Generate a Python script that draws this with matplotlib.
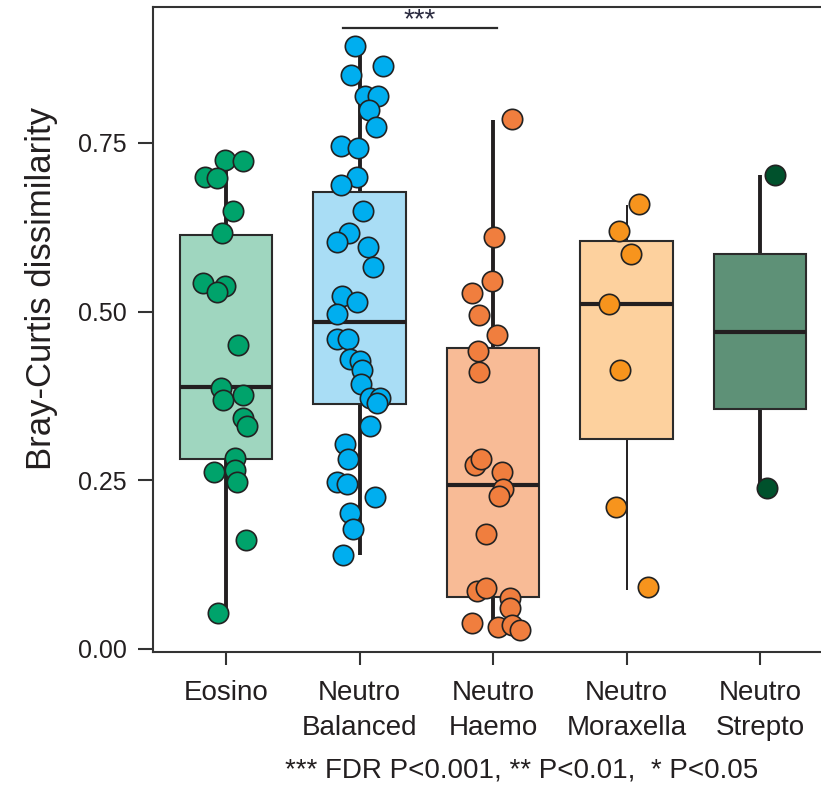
import numpy as np
import matplotlib
matplotlib.use("Agg")
from matplotlib import pyplot as plt

plt.rcParams['font.family'] = ['Liberation Sans', 'DejaVu Sans']

# groups and box statistics
groups = ['Eosino', 'Neutro\nBalanced', 'Neutro\nHaemo', 'Neutro\nMoraxella', 'Neutro\nStrepto']
q1 = [0.282, 0.363, 0.077, 0.311, 0.355]
med = [0.388, 0.485, 0.243, 0.511, 0.470]
q3 = [0.614, 0.677, 0.446, 0.605, 0.585]
whis_lo = [0.054, 0.139, 0.034, 0.088, 0.238]
whis_hi = [0.715, 0.893, 0.784, 0.658, 0.703]

# individual points (value, horizontal jitter)
eosino = [0.725, 0.723, 0.700, 0.698, 0.649, 0.617, 0.543, 0.538, 0.529, 0.450, 0.387,
          0.369, 0.377, 0.343, 0.330, 0.283, 0.262, 0.265, 0.248, 0.162, 0.054]
eosino_jit = [-0.007, 0.125, -0.157, -0.070, 0.055, -0.028, -0.170, -0.007, -0.070, 0.092, -0.037,
              -0.025, 0.125, 0.125, 0.155, 0.067, -0.090, 0.067, 0.085, 0.148, -0.058]

balanced = [0.893, 0.864, 0.851, 0.820, 0.819, 0.799, 0.774, 0.745, 0.742, 0.700, 0.687,
            0.649, 0.617, 0.603, 0.596, 0.566, 0.523, 0.515, 0.496, 0.459, 0.460, 0.430,
            0.427, 0.414, 0.393, 0.372, 0.372, 0.365, 0.331, 0.304, 0.282, 0.247, 0.244,
            0.225, 0.202, 0.178, 0.139]
balanced_jit = [-0.034, 0.178, -0.064, 0.041, 0.141, 0.073, 0.124, -0.139, -0.009, -0.021, -0.139,
                0.028, -0.077, -0.171, 0.066, 0.103, -0.133, -0.021, -0.171, -0.171, -0.084, -0.071,
                0.004, 0.016, 0.011, 0.079, 0.154, 0.129, 0.079, -0.109, -0.084, -0.171, -0.096,
                0.116, -0.071, -0.046, -0.121]

haemo = [0.785, 0.610, 0.545, 0.528, 0.495, 0.466, 0.442, 0.411, 0.273, 0.281, 0.263,
         0.237, 0.227, 0.170, 0.086, 0.091, 0.039, 0.076, 0.060, 0.033, 0.036, 0.028]
haemo_jit = [0.140, 0.007, -0.010, -0.155, -0.105, 0.028, -0.110, -0.103, -0.135, -0.092, 0.065,
             0.077, 0.045, -0.052, -0.122, -0.052, -0.155, 0.127, 0.127, 0.040, 0.140, 0.202]

moraxella = [0.659, 0.620, 0.586, 0.511, 0.414, 0.211, 0.092]
moraxella_jit = [0.094, -0.054, 0.034, -0.131, -0.049, -0.079, 0.163]

strepto = [0.703, 0.238]
strepto_jit = [0.112, 0.050]

points = [eosino, balanced, haemo, moraxella, strepto]
jitters = [eosino_jit, balanced_jit, haemo_jit, moraxella_jit, strepto_jit]

box_colors = ['#9fd6bf', '#a9ddf5', '#f8bb96', '#fdd19e', '#5e9177']
dot_colors = ['#00a36b', '#00aeef', '#f07e3e', '#f7941d', '#00512c']
whisker_lw = [2.8, 2.8, 2.8, 1.4, 2.8]
dark = '#231f20'

fig = plt.figure(figsize=(8.21, 7.85), dpi=100)
ax = fig.add_axes([153 / 821, 133 / 785, 668 / 821, 645 / 785])

pos = np.arange(1, len(groups) + 1)
stats = []
for i in range(len(groups)):
    stats.append(dict(med=med[i], q1=q1[i], q3=q3[i], whislo=whis_lo[i], whishi=whis_hi[i],
                      fliers=[]))

bp = ax.bxp(stats, positions=pos, widths=0.69, patch_artist=True, showfliers=False,
            showcaps=False,
            boxprops=dict(linewidth=1.5, edgecolor='#2b2b2b'),
            medianprops=dict(linewidth=3, color=dark, solid_capstyle='butt'),
            whiskerprops=dict(color=dark, solid_capstyle='butt'))
for patch, c in zip(bp['boxes'], box_colors):
    patch.set_facecolor(c)
for i, lw in enumerate(whisker_lw):
    bp['whiskers'][2 * i].set_linewidth(lw)
    bp['whiskers'][2 * i + 1].set_linewidth(lw)
    bp['whiskers'][2 * i].set_zorder(1)
    bp['whiskers'][2 * i + 1].set_zorder(1)

for i in range(len(groups)):
    xs = pos[i] + np.array(jitters[i])
    ax.scatter(xs, points[i], s=215, color=dot_colors[i], edgecolor='#222222',
               linewidth=1.2, zorder=4)

# significance bar
ax.plot([1.88, 3.03], [0.92, 0.92], color='#2b2b2b', lw=1.6)
ax.text(2.45, 0.921, '***', ha='center', va='baseline', fontsize=20, color='#2b2b40')

ax.set_xlim(0.453, 1 + (821 - 226) / 133.5)
ax.set_ylim(-0.0045, 0.9515)
ax.set_xticks(pos)
ax.set_xticklabels(groups, fontsize=20, color='#231f20', linespacing=1.45)
ax.set_yticks([0, 0.25, 0.5, 0.75])
ax.set_yticklabels(['0.00', '0.25', '0.50', '0.75'], fontsize=18, color='#231f20')
ax.tick_params(axis='y', length=10.8, width=1.5, pad=8, color='#333333')
ax.tick_params(axis='x', length=9.5, width=1.5, pad=11, color='#333333')

for s in ['left', 'bottom', 'top']:
    ax.spines[s].set_linewidth(1.5)
    ax.spines[s].set_color('#333333')
ax.spines['right'].set_visible(False)

fig.text(0.051, 0.632, 'Bray-Curtis dissimilarity', rotation=90, ha='center', va='center',
         fontsize=25, color='#231f20')
fig.text(0.635, 0.019, '*** FDR P<0.001, ** P<0.01,  * P<0.05', ha='center', va='center',
         fontsize=20, color='#231f20')

fig.savefig('out.png', dpi=100)
